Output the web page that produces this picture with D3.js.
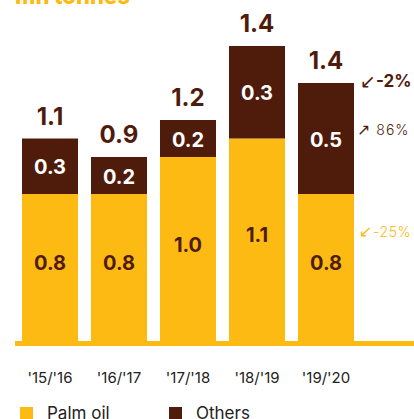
<!DOCTYPE html>
<html lang="en">
<head>
    <meta charset="UTF-8">
    <title>Palm oil and others</title>
    <script src="https://d3js.org/d3.v7.min.js"></script>
    <style type="text/css">
        body {
            margin: 0;
            background-color: #ffffff;
        }
        svg text {
            font-family: Inter, "Open Sans", sans-serif;
        }
        .total {
            fill: #4f1c0c;
            font-size: 24px;
            font-weight: 700;
            text-anchor: middle;
        }
        .inner {
            font-size: 20px;
            font-weight: 700;
            text-anchor: middle;
            dominant-baseline: central;
        }
        .tick-label {
            fill: #222;
            font-size: 15px;
            text-anchor: middle;
        }
        .legend-label {
            fill: #222;
            font-size: 17px;
        }
        .arrow {
            font-family: "DejaVu Sans", sans-serif;
            font-weight: 400;
        }
    </style>
</head>
<body>
    <script type="text/javascript">
        //DATA
        const categories = ["'15/'16", "'16/'17", "'17/'18", "'18/'19", "'19/'20"];
        const palmOil = [0.8, 0.8, 1.0, 1.1, 0.8];
        const others = [0.3, 0.2, 0.2, 0.5, 0.6];   // bar heights as drawn
        const palmLabels = ["0.8", "0.8", "1.0", "1.1", "0.8"];
        const otherLabels = ["0.3", "0.2", "0.2", "0.3", "0.5"];
        const totalLabels = ["1.1", "0.9", "1.2", "1.4", "1.4"];
        const changeArrows = ["\u2199", "\u2197", "\u2199"];
        const changeLabels = ["-2%", " 86%", "-25%"];
        const changeAt = [1.41, 1.15, 0.6];

        //CONSTANTS
        const width = 414;
        const height = 419;
        const yellow = "#fdba12";
        const brown = "#4f1c0c";

        //SCALES
        const xScale = d3.scaleBand()
            .domain(categories)
            .range([15.5, 360.5])
            .paddingInner(13 / 69)
            .paddingOuter(6.5 / 69);

        const yScale = d3.scaleLinear()
            .domain([0, 1])
            .range([342, 157]);

        //SVG
        const svg = d3.select("body")
            .append("svg")
            .attr("width", width)
            .attr("height", height);

        //TITLE (cut off at the top)
        svg.append("text")
            .attr("x", 15)
            .attr("y", 4)
            .attr("fill", yellow)
            .attr("font-size", 22)
            .attr("font-weight", 800)
            .text("mn tonnes");

        const data = categories.map((c, i) => ({
            cat: c, palm: palmOil[i], other: others[i],
            palmLabel: palmLabels[i], otherLabel: otherLabels[i], total: totalLabels[i]
        }));

        //PALM OIL BARS
        svg.selectAll(".palm")
            .data(data)
            .join("rect")
            .attr("class", "palm")
            .attr("x", d => xScale(d.cat))
            .attr("width", xScale.bandwidth())
            .attr("y", d => yScale(d.palm))
            .attr("height", d => yScale(0) - yScale(d.palm))
            .attr("fill", yellow);

        //OTHERS BARS
        svg.selectAll(".other")
            .data(data)
            .join("rect")
            .attr("class", "other")
            .attr("x", d => xScale(d.cat))
            .attr("width", xScale.bandwidth())
            .attr("y", d => yScale(d.palm + d.other))
            .attr("height", d => yScale(d.palm) - yScale(d.palm + d.other))
            .attr("fill", brown);

        //BASELINE
        svg.append("line")
            .attr("x1", 15)
            .attr("x2", width)
            .attr("y1", yScale(0) + 1.5)
            .attr("y2", yScale(0) + 1.5)
            .attr("stroke", yellow)
            .attr("stroke-width", 5);

        //LABELS INSIDE BARS
        svg.selectAll(".palm-label")
            .data(data)
            .join("text")
            .attr("class", "inner")
            .attr("x", d => xScale(d.cat) + xScale.bandwidth() / 2)
            .attr("y", d => (yScale(d.palm) + yScale(0)) / 2 - 5)
            .attr("fill", brown)
            .text(d => d.palmLabel);

        svg.selectAll(".other-label")
            .data(data)
            .join("text")
            .attr("class", "inner")
            .attr("x", d => xScale(d.cat) + xScale.bandwidth() / 2)
            .attr("y", d => (yScale(d.palm) + yScale(d.palm + d.other)) / 2 + 1)
            .attr("fill", "#ffffff")
            .text(d => d.otherLabel);

        //TOTALS
        svg.selectAll(".total")
            .data(data)
            .join("text")
            .attr("class", "total")
            .attr("x", d => xScale(d.cat) + xScale.bandwidth() / 2)
            .attr("y", d => yScale(d.palm + d.other) - 14)
            .text(d => d.total);

        //CHANGE ANNOTATIONS
        const changeStyle = [
            {x: 360, color: brown, size: 17, weight: 700, spacing: 0},
            {x: 357, color: brown, size: 14, weight: 300, spacing: 1},
            {x: 359, color: yellow, size: 14, weight: 300, spacing: 0.6}
        ];
        changeLabels.forEach((label, i) => {
            const s = changeStyle[i];
            const t = svg.append("text")
                .attr("x", s.x)
                .attr("y", yScale(changeAt[i]))
                .attr("fill", s.color)
                .attr("font-size", s.size)
                .attr("font-weight", s.weight)
                .attr("letter-spacing", s.spacing)
                .attr("dominant-baseline", "central");
            t.append("tspan")
                .attr("class", "arrow")
                .attr("font-size", s.size + 2)
                .text(changeArrows[i]);
            t.append("tspan")
                .text(label);
        });

        //X AXIS LABELS
        svg.selectAll(".tick-label")
            .data(categories)
            .join("text")
            .attr("class", "tick-label")
            .attr("x", d => xScale(d) + xScale.bandwidth() / 2)
            .attr("y", 383)
            .text(d => d);

        //LEGEND
        const legend = [["Palm oil", yellow, 20], ["Others", brown, 169]];
        legend.forEach(l => {
            svg.append("rect")
                .attr("x", l[2])
                .attr("y", 407)
                .attr("width", 13)
                .attr("height", 13)
                .attr("fill", l[1]);
            svg.append("text")
                .attr("class", "legend-label")
                .attr("x", l[2] + 27)
                .attr("y", 419)
                .text(l[0]);
        });
    </script>
</body>
</html>
